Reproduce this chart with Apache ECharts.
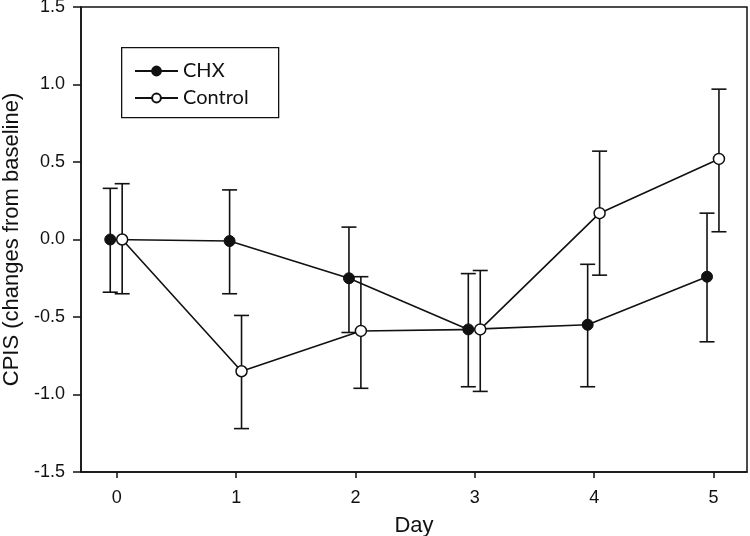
<!DOCTYPE html>
<html>
<head>
<meta charset="utf-8">
<script src="https://cdn.jsdelivr.net/npm/echarts@6/dist/echarts.min.js"></script>
<style>
html,body{margin:0;padding:0;background:#fff;}
#chart{width:750px;height:536px;}
</style>
</head>
<body>
<div id="chart"></div>
<script>
// ---- data ----
const days = [0, 1, 2, 3, 4, 5];
const xTickLabels = [0, 1, 2, 3, 4, 5];
const chxMean  = [0.00, -0.01, -0.25, -0.58, -0.55, -0.24];
const chxUpper = [0.33, 0.32, 0.08, -0.22, -0.16, 0.17];
const chxLower = [-0.34, -0.35, -0.60, -0.95, -0.95, -0.66];
const ctrlMean  = [0.00, -0.85, -0.59, -0.58, 0.17, 0.52];
const ctrlUpper = [0.36, -0.49, -0.24, -0.20, 0.57, 0.97];
const ctrlLower = [-0.35, -1.22, -0.96, -0.98, -0.23, 0.05];

const INK = '#111';
const chxShift = -0.055, ctrlShift = 0.045;

const chxPts = days.map((d, i) => [d + chxShift, chxMean[i]]);
const ctrlPts = days.map((d, i) => [d + ctrlShift, ctrlMean[i]]);
const chxErr = days.map((d, i) => [d + chxShift, chxLower[i], chxUpper[i]]);
const ctrlErr = days.map((d, i) => [d + ctrlShift, ctrlLower[i], ctrlUpper[i]]);

function errRender(params, api) {
  const x = api.value(0), lo = api.value(1), hi = api.value(2);
  const t = api.coord([x, hi]), b = api.coord([x, lo]);
  const cap = 7.5;
  const st = {stroke: INK, lineWidth: 1.6};
  return {type: 'group', children: [
    {type: 'line', shape: {x1: t[0], y1: t[1], x2: b[0], y2: b[1]}, style: st},
    {type: 'line', shape: {x1: t[0] - cap, y1: t[1], x2: t[0] + cap, y2: t[1]}, style: st},
    {type: 'line', shape: {x1: b[0] - cap, y1: b[1], x2: b[0] + cap, y2: b[1]}, style: st}
  ]};
}

const chart = echarts.init(document.getElementById('chart'), null, {renderer: 'canvas'});
chart.setOption({
  animation: false,
  backgroundColor: '#fff',
  grid: {left: 81, right: 3, top: 7, bottom: 64, outerBoundsMode: 'none', containLabel: false,
         show: true, borderColor: INK, borderWidth: 1.5, backgroundColor: 'transparent'},
  legend: {
    data: ['CHX', 'Control'],
    orient: 'vertical',
    left: 134, top: 61,
    padding: 0,
    itemWidth: 43, itemHeight: 11, itemGap: 7,
    textStyle: {fontFamily: 'Lato', fontSize: 20, lineHeight: 20, color: INK}
  },
  graphic: [{
    type: 'rect', left: 121, top: 47, z: 0,
    shape: {width: 157, height: 70},
    style: {fill: 'transparent', stroke: INK, lineWidth: 1.3}
  }],
  xAxis: {
    type: 'value', min: -0.3, max: 5.28,
    name: 'Day', nameLocation: 'middle', nameGap: 43,
    nameTextStyle: {fontFamily: 'Liberation Sans', fontSize: 22, color: INK},
    axisLine: {show: true, onZero: false, lineStyle: {color: INK, width: 1.5}},
    axisTick: {show: true, length: 6, customValues: xTickLabels, lineStyle: {color: INK, width: 1.5}},
    axisLabel: {customValues: xTickLabels, margin: 17, fontFamily: 'Liberation Sans', fontSize: 18, color: INK},
    splitLine: {show: false}
  },
  yAxis: {
    type: 'value', min: -1.5, max: 1.5, interval: 0.5,
    name: 'CPIS (changes from baseline)', nameLocation: 'middle', nameGap: 57,
    nameTextStyle: {fontFamily: 'Liberation Sans', fontSize: 22, color: INK},
    axisLine: {show: true, onZero: false, lineStyle: {color: INK, width: 1.5}},
    axisTick: {show: true, length: 8, lineStyle: {color: INK, width: 1.5}},
    axisLabel: {margin: 16, fontFamily: 'Liberation Sans', fontSize: 18, color: INK, formatter: v => v.toFixed(1)},
    splitLine: {show: false}
  },
  series: [
    {type: 'custom', name: 'chxErr', data: chxErr, renderItem: errRender, encode: {x: 0, y: [1, 2]}, z: 2, silent: true},
    {type: 'custom', name: 'ctrlErr', data: ctrlErr, renderItem: errRender, encode: {x: 0, y: [1, 2]}, z: 2, silent: true},
    {
      type: 'line', name: 'CHX', data: chxPts, z: 3,
      symbol: 'circle', symbolSize: 11, showSymbol: true,
      lineStyle: {color: INK, width: 1.6},
      itemStyle: {color: INK, borderColor: INK, borderWidth: 1}
    },
    {
      type: 'line', name: 'Control', data: ctrlPts, z: 4,
      symbol: 'circle', symbolSize: 11, showSymbol: true,
      lineStyle: {color: INK, width: 1.6},
      itemStyle: {color: '#fff', borderColor: INK, borderWidth: 1.5}
    }
  ]
});
</script>
</body>
</html>
